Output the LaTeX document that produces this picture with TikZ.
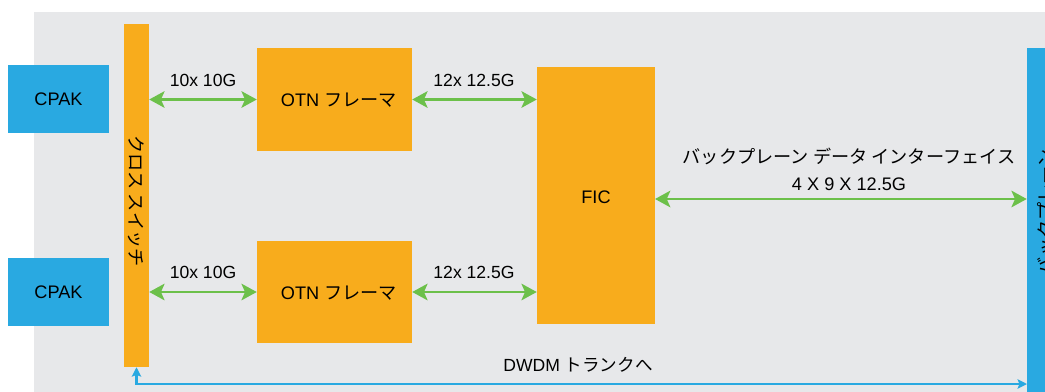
\documentclass[tikz,border=0pt]{standalone}
\usepackage{fontspec}
\setmainfont{Liberation Sans}
\newfontfamily\jp{Noto Sans CJK JP}
\usetikzlibrary{arrows.meta,fit}
\definecolor{bgray}{HTML}{E7E8EA}
\definecolor{orng}{HTML}{F8AC1C}
\definecolor{cblue}{HTML}{29A9E1}
\definecolor{cgreen}{HTML}{6CC04A}
\begin{document}
\begin{tikzpicture}[x=0.03cm,y=-0.03cm,
  box/.style={inner sep=0pt,draw=none,font=\fontsize{15.5}{18}\selectfont},
  obox/.style={box,fill=orng},
  bbox/.style={box,fill=cblue},
  lbl/.style={inner sep=0pt,font=\fontsize{15}{18}\selectfont},
  garr/.style={draw=cgreen,line width=2.5pt,
    {Stealth[length=13pt,width=14pt,inset=3pt]}-{Stealth[length=13pt,width=14pt,inset=3pt]}},
  tarr/.style={draw=cblue,line width=1.8pt,
    {Stealth[length=8pt,width=8pt,inset=1.5pt]}-{Stealth[length=8pt,width=8pt,inset=1.5pt]}}]
\useasboundingbox (0,0) rectangle (1045,391);
\clip (0,0) rectangle (1045,391);
\fill[bgray] (34,12) rectangle (1060,400);
% blocks
\node[bbox,fit={(8,65) (109,133)}] (cpak1) {};
\node[box] at (cpak1.center) {CPAK};
\node[bbox,fit={(8,258) (109,326)}] (cpak2) {};
\node[box] at (cpak2.center) {CPAK};
\node[obox,fit={(124,24) (149,367)}] (sw) {};
\node[box,rotate=-90] at (136.5,201) {\jp クロス スイッチ};
\node[obox,fit={(257,48) (412,151)}] (otn1) {};
\node[box] at (339,100) {OTN {\jp フレーマ}};
\node[obox,fit={(257,241) (412,343)}] (otn2) {};
\node[box] at (339,293) {OTN {\jp フレーマ}};
\node[obox,fit={(537,67) (655,324)}] (fic) {};
\node[box] at (596,197) {FIC};
\node[bbox,fit={(1027,48) (1062,400)}] (bp) {};
\node[box,rotate=90] at (1046,212) {\jp バックプレーン};
% connectors
\draw[garr] (sw.east |- otn1.west) -- (otn1.west);
\draw[garr] (otn1.east) -- (fic.west |- otn1.east);
\draw[garr] (sw.east |- otn2.west) -- (otn2.west);
\draw[garr] (otn2.east) -- (fic.west |- otn2.east);
\coordinate (ficout) at (655,199);
\draw[garr] (ficout) -- (bp.west |- ficout);
\coordinate (trunk) at (1027,384);
\draw[tarr] (sw.south) |- (trunk);
% labels
\node[lbl] at (203,80) {10x 10G};
\node[lbl] at (203,272) {10x 10G};
\node[lbl] at (474,80) {12x 12.5G};
\node[lbl] at (474,272) {12x 12.5G};
\node[lbl,align=center,font=\fontsize{15.5}{23}\selectfont] at (849,169) {{\jp バックプレーン データ インターフェイス}\\4 X 9 X 12.5G};
\node[lbl] at (578,365) {DWDM {\jp トランクへ}};
\end{tikzpicture}
\end{document}
